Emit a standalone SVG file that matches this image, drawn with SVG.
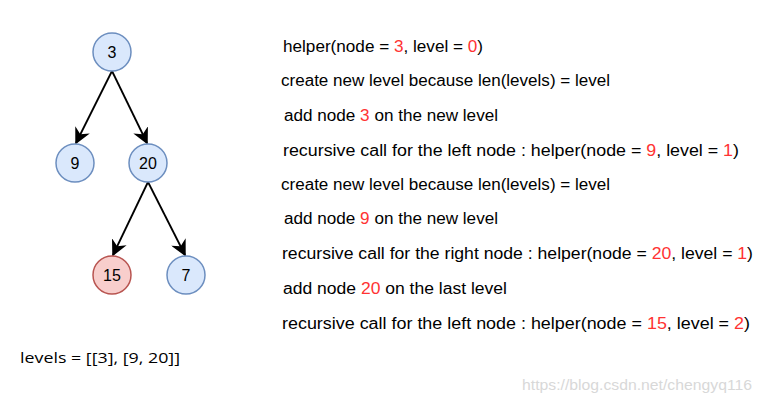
<svg xmlns="http://www.w3.org/2000/svg" width="761" height="402" viewBox="0 0 761 402">
<style>
.blue{fill:#dae8fc;stroke:#6c8ebf;stroke-width:1.5}
.red{fill:#f8cecc;stroke:#b85450;stroke-width:1.5}
.nl{font-family:"Comic Sans MS","Liberation Sans",sans-serif;font-size:16px;fill:#000;text-anchor:middle}
.t{font-family:"Comic Sans MS","Liberation Sans",sans-serif;font-size:16px;fill:#000}
.r{fill:#ff3333}
.edge{stroke:#000;stroke-width:1.8;fill:none;marker-end:url(#arr)}
</style>
<defs>
<marker id="arr" viewBox="0 0 10 10" refX="9" refY="5" markerWidth="9" markerHeight="9" orient="auto"><path d="M0,0 L10,5 L0,10 L3,5 Z" fill="#000"/></marker>
</defs>
<g id="connectors">
<path class="edge" d="M112,71 L76,143"/>
<path class="edge" d="M112,71 L147,143"/>
<path class="edge" d="M148,182 L113,255"/>
<path class="edge" d="M148,182 L185,255"/>
</g>
<g id="n3"><circle class="blue" cx="112" cy="52" r="19"/><text class="nl" x="112" y="58">3</text></g>
<g id="n9"><circle class="blue" cx="75" cy="163" r="19"/><text class="nl" x="75" y="169">9</text></g>
<g id="n20"><circle class="blue" cx="148" cy="163" r="19"/><text class="nl" x="148" y="169">20</text></g>
<g id="n15"><circle class="red" cx="112" cy="275" r="19"/><text class="nl" x="112" y="281">15</text></g>
<g id="n7"><circle class="blue" cx="186" cy="275" r="19"/><text class="nl" x="186" y="281">7</text></g>
<g id="steps">
<text class="t" x="283" y="52" textLength="200" lengthAdjust="spacingAndGlyphs">helper(node = <tspan class="r">3</tspan>, level = <tspan class="r">0</tspan>)</text>
<text class="t" x="281" y="86" textLength="329" lengthAdjust="spacingAndGlyphs">create new level because len(levels) = level</text>
<text class="t" x="284" y="121" textLength="214" lengthAdjust="spacingAndGlyphs">add node <tspan class="r">3</tspan> on the new level</text>
<text class="t" x="283" y="156" textLength="456" lengthAdjust="spacingAndGlyphs">recursive call for the left node : helper(node = <tspan class="r">9</tspan>, level = <tspan class="r">1</tspan>)</text>
<text class="t" x="281" y="190" textLength="329" lengthAdjust="spacingAndGlyphs">create new level because len(levels) = level</text>
<text class="t" x="284" y="224" textLength="214" lengthAdjust="spacingAndGlyphs">add node <tspan class="r">9</tspan> on the new level</text>
<text class="t" x="282" y="259" textLength="471" lengthAdjust="spacingAndGlyphs">recursive call for the right node : helper(node = <tspan class="r">20</tspan>, level = <tspan class="r">1</tspan>)</text>
<text class="t" x="283" y="294" textLength="224" lengthAdjust="spacingAndGlyphs">add node <tspan class="r">20</tspan> on the last level</text>
<text class="t" x="282" y="329" textLength="468" lengthAdjust="spacingAndGlyphs">recursive call for the left node : helper(node = <tspan class="r">15</tspan>, level = <tspan class="r">2</tspan>)</text>
</g>
<text x="20" y="363" font-family="'Open Sans','Liberation Sans',sans-serif" font-size="15" textLength="160" lengthAdjust="spacingAndGlyphs" fill="#000">levels = [[3], [9, 20]]</text>
<text x="522" y="390" font-family="'Liberation Sans Narrow','Liberation Sans',sans-serif" font-size="15" textLength="230" lengthAdjust="spacingAndGlyphs" fill="#d8d8d8">https://blog.csdn.net/chengyq116</text>
</svg>
